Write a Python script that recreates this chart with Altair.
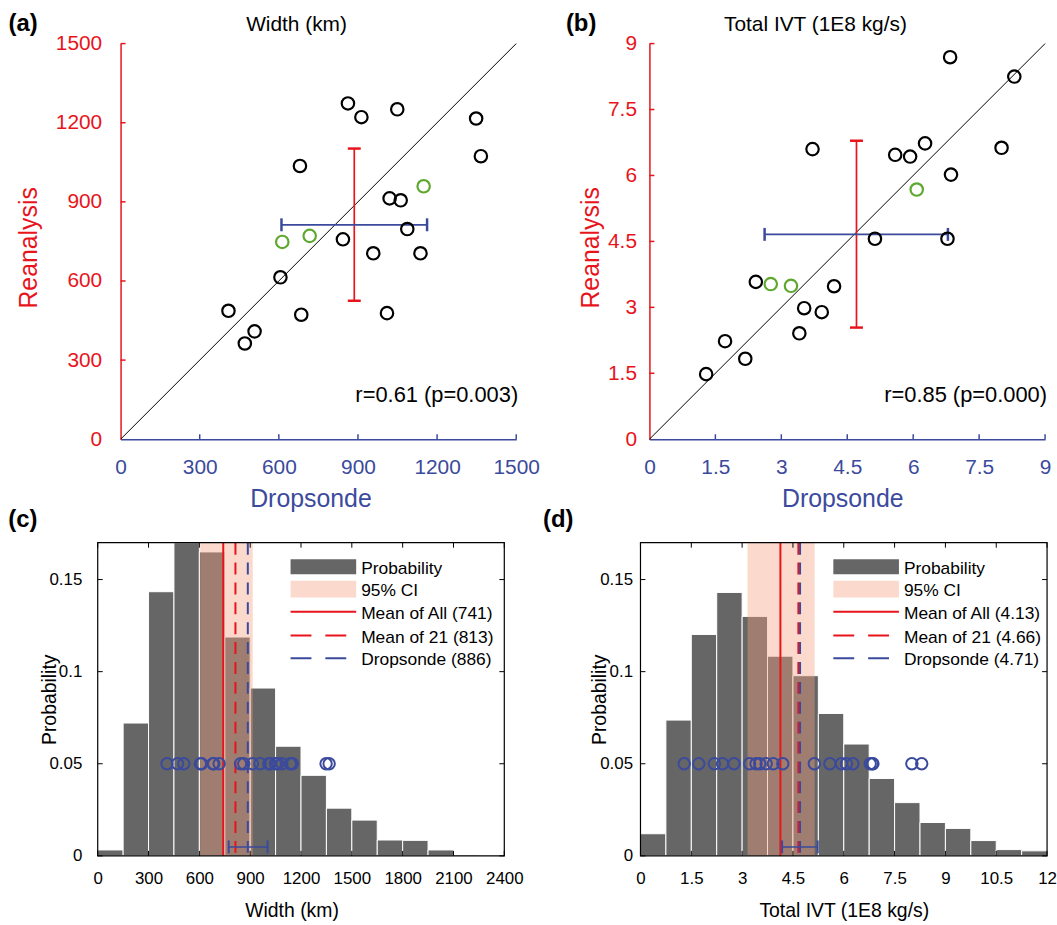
import altair as alt
import pandas as pd

FONT = "Liberation Sans"
RED = "#e8141c"
BLUE = "#3b4a9d"
GREEN = "#5ea82f"
GRAY = "#666666"
CI_FILL = "#f5a383"
LABEL_EXPR = "'' + datum.value"

# ---------------- Panel (a): Width (km) ----------------
width_drop_black = [862, 913, 1049, 1348, 1366, 680, 1020, 1062, 1087, 843, 958, 1137, 606, 409, 685, 1010, 508, 471]
width_rean_black = [1273, 1221, 1251, 1216, 1073, 1036, 913, 906, 797, 758, 705, 705, 614, 487, 472, 478, 409, 363]
width_drop_green = [1149, 717, 613]
width_rean_green = [959, 771, 748]
width_ticks = [0, 300, 600, 900, 1200, 1500]
width_err = {"drop_mean": 886, "rean_mean": 813, "drop_lo": 610, "drop_hi": 1162, "rean_lo": 525, "rean_hi": 1102}
width_r_text = "r=0.61 (p=0.003)"

# ---------------- Panel (b): Total IVT (1E8 kg/s) ----------------
ivt_drop_black = [6.84, 8.30, 3.71, 5.59, 5.93, 6.27, 8.01, 6.86, 5.13, 6.78, 2.42, 4.20, 3.52, 3.92, 3.41, 1.72, 2.18, 1.29]
ivt_rean_black = [8.69, 8.25, 6.60, 6.47, 6.43, 6.73, 6.63, 6.02, 4.56, 4.56, 3.58, 3.48, 2.98, 2.89, 2.41, 2.23, 1.83, 1.48]
ivt_drop_green = [6.08, 2.76, 3.22]
ivt_rean_green = [5.68, 3.53, 3.49]
ivt_ticks = [0, 1.5, 3, 4.5, 6, 7.5, 9]
ivt_err = {"drop_mean": 4.71, "rean_mean": 4.66, "drop_lo": 2.62, "drop_hi": 6.79, "rean_lo": 2.54, "rean_hi": 6.79}
ivt_r_text = "r=0.85 (p=0.000)"

# ---------------- Panel (c): width histogram ----------------
width_edges = [0, 150, 300, 450, 600, 750, 900, 1050, 1200, 1350, 1500, 1650, 1800, 1950, 2100, 2250, 2400]
width_prob = [0.0032, 0.0721, 0.1434, 0.1700, 0.1650, 0.1188, 0.0911, 0.0595, 0.0437, 0.0259,
              0.0194, 0.0086, 0.0084, 0.0032, 0.0005, 0.0001]
width_hist_ticks = [0, 300, 600, 900, 1200, 1500, 1800, 2100, 2400]
width_hist_stats = {"ci_lo": 605, "ci_hi": 915, "mean_all": 741, "mean_21": 813, "drop": 886,
                    "err_lo": 773, "err_hi": 1003}
width_legend = ["Probability", "95% CI", "Mean of All (741)", "Mean of 21 (813)", "Dropsonde (886)"]

# ---------------- Panel (d): IVT histogram ----------------
ivt_edges = [0, 0.75, 1.5, 2.25, 3, 3.75, 4.5, 5.25, 6, 6.75, 7.5, 8.25, 9, 9.75, 10.5, 11.25, 12]
ivt_prob = [0.0120, 0.0737, 0.1202, 0.1430, 0.1300, 0.1084, 0.0978, 0.0773, 0.0607, 0.0420,
            0.0289, 0.0181, 0.0149, 0.0083, 0.0034, 0.0027]
ivt_hist_ticks = [0, 1.5, 3, 4.5, 6, 7.5, 9, 10.5, 12]
ivt_hist_stats = {"ci_lo": 3.16, "ci_hi": 5.14, "mean_all": 4.13, "mean_21": 4.66, "drop": 4.71,
                  "err_lo": 4.18, "err_hi": 5.23}
ivt_legend = ["Probability", "95% CI", "Mean of All (4.13)", "Mean of 21 (4.66)", "Dropsonde (4.71)"]

prob_ticks = [0, 0.05, 0.1, 0.15]
marker_level = 0.05

one = pd.DataFrame({"k": [0]})


def txt(text, x, y, size, color="black", align="left", weight="normal"):
    return alt.Chart(one).mark_text(text=text, font=FONT, fontSize=size, color=color, align=align,
                                    baseline="alphabetic", fontWeight=weight).encode(
        x=alt.value(x), y=alt.value(y))


def guard(x):
    # invisible layout guard reserving blank space to the right of a panel
    return alt.Chart(one).mark_rule(strokeOpacity=0, strokeWidth=1).encode(
        x=alt.value(x), y=alt.value(0), y2=alt.value(10))


def scatter_panel(xb, yb, xg, yg, st, ticks, title, title_x, label, label_x, rtext, ylab_pad, ytitle_x,
                  xtitle_x, right_pad=None):
    W = H = 398
    dom = [ticks[0], ticks[-1]]
    xs = alt.Scale(domain=dom, nice=False, zero=False)
    ys = alt.Scale(domain=dom, nice=False, zero=False)
    xaxis = alt.Axis(values=ticks, labelExpr=LABEL_EXPR, grid=False, domain=True, domainColor=BLUE,
                     domainWidth=1.5, ticks=False, labelColor=BLUE, labelFont=FONT, labelFontSize=21,
                     labelPadding=17, labelFlush=False, labelOverlap=False,
                     title="Dropsonde", titleColor=BLUE, titleFont=FONT, titleFontSize=25,
                     titleFontWeight="normal", titleX=xtitle_x, titleY=67.6, titleAlign="center",
                     titleBaseline="alphabetic", titleAngle=0)
    yaxis = alt.Axis(values=ticks, labelExpr=LABEL_EXPR, grid=False, domain=True, domainColor=RED,
                     domainWidth=1.5, ticks=False, labelColor=RED, labelFont=FONT, labelFontSize=21,
                     labelPadding=ylab_pad, labelFlush=False, labelOverlap=False,
                     title="Reanalysis", titleColor=RED, titleFont=FONT, titleFontSize=25,
                     titleFontWeight="normal", titleX=ytitle_x, titleY=205, titleAlign="center",
                     titleBaseline="alphabetic", titleAngle=270)

    def X(f):
        return alt.X(f, scale=xs, axis=xaxis)

    def Y(f):
        return alt.Y(f, scale=ys, axis=yaxis)

    diag = alt.Chart(pd.DataFrame({"x": dom, "y": dom})).mark_line(color="black", strokeWidth=1).encode(
        x=X("x:Q"), y=Y("y:Q"))
    black = alt.Chart(pd.DataFrame({"x": xb, "y": yb})).mark_point(
        shape="circle", filled=False, size=156, strokeWidth=2.2, color="black", opacity=1).encode(
        x=X("x:Q"), y=Y("y:Q"))
    green = alt.Chart(pd.DataFrame({"x": xg, "y": yg})).mark_point(
        shape="circle", filled=False, size=156, strokeWidth=2.2, color=GREEN, opacity=1).encode(
        x=X("x:Q"), y=Y("y:Q"))

    vdf = pd.DataFrame({"x": [st["drop_mean"]], "y": [st["rean_lo"]], "hi": [st["rean_hi"]]})
    vbar = alt.Chart(vdf).mark_rule(color=RED, strokeWidth=1.7).encode(
        x=X("x:Q"), y=Y("y:Q"), y2="hi:Q")
    vcap = alt.Chart(pd.DataFrame({"x": [st["drop_mean"]] * 2, "y": [st["rean_lo"], st["rean_hi"]]})).mark_tick(
        orient="horizontal", color=RED, size=13, thickness=2.5, opacity=1).encode(
        x=X("x:Q"), y=Y("y:Q"))
    hdf = pd.DataFrame({"y": [st["rean_mean"]], "x": [st["drop_lo"]], "hi": [st["drop_hi"]]})
    hbar = alt.Chart(hdf).mark_rule(color=BLUE, strokeWidth=1.7).encode(
        y=Y("y:Q"), x=X("x:Q"), x2="hi:Q")
    hcap = alt.Chart(pd.DataFrame({"y": [st["rean_mean"]] * 2, "x": [st["drop_lo"], st["drop_hi"]]})).mark_tick(
        orient="vertical", color=BLUE, size=13, thickness=2.5, opacity=1).encode(
        x=X("x:Q"), y=Y("y:Q"))

    ydf = pd.DataFrame({"y": ticks[1:]})
    xdf = pd.DataFrame({"x": ticks[1:]})
    yt = alt.Chart(ydf).mark_rule(color=RED, strokeWidth=1.5).encode(
        y=Y("y:Q"), x=alt.value(0), x2=alt.value(5))
    xt = alt.Chart(xdf).mark_rule(color=BLUE, strokeWidth=1.5).encode(
        x=X("x:Q"), y=alt.value(H), y2=alt.value(H - 5))

    r = txt(rtext, 400, 361, 22, align="right")
    ttl = txt(title, title_x, -13, 21, align="center")
    lab = txt(label, label_x, -13, 24, weight="bold")
    layers = [diag, vbar, vcap, hbar, hcap, black, green, yt, xt, r, ttl, lab]
    if right_pad is not None:
        layers.append(guard(right_pad))

    return alt.layer(*layers).properties(width=W, height=H)


def hist_panel(edges, probs, drops, st, xticks, xtitle, legend, label, label_x, ylab_pad, ytitle_x, xtitle_x,
               right_pad=None):
    W, H = 409, 315
    xs = alt.Scale(domain=[xticks[0], xticks[-1]], nice=False, zero=False)
    ys = alt.Scale(domain=[0, 0.17], nice=False, zero=False)
    xaxis = alt.Axis(values=xticks, labelExpr=LABEL_EXPR, grid=False, domain=False, ticks=False,
                     labelColor="black", labelFont=FONT, labelFontSize=17, labelPadding=15,
                     labelFlush=False, labelOverlap=False,
                     title=xtitle, titleColor="black", titleFont=FONT, titleFontSize=19.5,
                     titleFontWeight="normal", titleX=xtitle_x, titleY=61, titleAlign="center",
                     titleBaseline="alphabetic", titleAngle=0)
    yaxis = alt.Axis(values=prob_ticks, labelExpr=LABEL_EXPR, grid=False, domain=False, ticks=False,
                     labelColor="black", labelFont=FONT, labelFontSize=17, labelPadding=ylab_pad,
                     labelFlush=False, labelOverlap=False,
                     title="Probability", titleColor="black", titleFont=FONT, titleFontSize=19.5,
                     titleFontWeight="normal", titleX=ytitle_x, titleY=H / 2, titleAlign="center",
                     titleBaseline="alphabetic", titleAngle=270)

    def X(f):
        return alt.X(f, scale=xs, axis=xaxis)

    def Y(f):
        return alt.Y(f, scale=ys, axis=yaxis)

    bdf = pd.DataFrame({"x": edges[:-1], "end": edges[1:], "y": probs})
    bars = alt.Chart(bdf).mark_rect(fill=GRAY, stroke="white", strokeWidth=1, clip=True).encode(
        x=X("x:Q"), x2="end:Q", y=Y("y:Q"), y2=alt.datum(0))
    ci = alt.Chart(pd.DataFrame({"x": [st["ci_lo"]], "hi": [st["ci_hi"]]})).mark_rect(
        fill=CI_FILL, fillOpacity=0.4).encode(
        x=X("x:Q"), x2="hi:Q", y=alt.value(0), y2=alt.value(H))

    def vline(v, color, dash=None):
        kw = dict(color=color, strokeWidth=2)
        if dash:
            kw["strokeDash"] = dash
        return alt.Chart(pd.DataFrame({"x": [v]})).mark_rule(**kw).encode(
            x=X("x:Q"), y=alt.value(0), y2=alt.value(H))

    m_all = vline(st["mean_all"], RED)
    m_21 = vline(st["mean_21"], RED, [12, 8])
    m_drop = vline(st["drop"], BLUE, [12, 8])

    circ = alt.Chart(pd.DataFrame({"x": drops, "y": [marker_level] * len(drops)})).mark_point(
        shape="circle", filled=False, size=132, strokeWidth=2, color=BLUE, opacity=1).encode(
        x=X("x:Q"), y=Y("y:Q"))

    err = alt.Chart(pd.DataFrame({"x": [st["err_lo"]], "hi": [st["err_hi"]]})).mark_rule(
        color=BLUE, strokeWidth=1.5).encode(
        x=X("x:Q"), x2="hi:Q", y=alt.value(H - 9))
    errcap = alt.Chart(pd.DataFrame({"x": [st["err_lo"], st["err_hi"]]})).mark_tick(
        orient="vertical", color=BLUE, size=13, thickness=2, opacity=1).encode(
        x=X("x:Q"), y=alt.value(H - 9))

    frame = alt.Chart(one).mark_rect(fillOpacity=0, stroke="black", strokeWidth=1.2).encode(
        x=alt.value(0), x2=alt.value(W), y=alt.value(0), y2=alt.value(H))
    xtdf = pd.DataFrame({"x": xticks})
    ytdf = pd.DataFrame({"y": prob_ticks})
    xt_b = alt.Chart(xtdf).mark_rule(color="black", strokeWidth=1).encode(
        x=X("x:Q"), y=alt.value(H), y2=alt.value(H - 5))
    xt_t = alt.Chart(xtdf).mark_rule(color="black", strokeWidth=1).encode(
        x=X("x:Q"), y=alt.value(0), y2=alt.value(5))
    yt_l = alt.Chart(ytdf).mark_rule(color="black", strokeWidth=1).encode(
        y=Y("y:Q"), x=alt.value(0), x2=alt.value(5))
    yt_r = alt.Chart(ytdf).mark_rule(color="black", strokeWidth=1).encode(
        y=Y("y:Q"), x=alt.value(W), x2=alt.value(W - 5))

    # legend
    lx0, lx1, ltx = 194, 260, 265
    leg = [
        alt.Chart(one).mark_rect(fill=GRAY).encode(
            x=alt.value(lx0), x2=alt.value(lx1), y=alt.value(16.7), y2=alt.value(31.7)),
        alt.Chart(one).mark_rect(fill=CI_FILL, fillOpacity=0.4).encode(
            x=alt.value(lx0), x2=alt.value(lx1), y=alt.value(38.3), y2=alt.value(55)),
        alt.Chart(one).mark_rule(color=RED, strokeWidth=2).encode(
            x=alt.value(lx0), x2=alt.value(lx1), y=alt.value(69.5)),
        alt.Chart(one).mark_rule(color=RED, strokeWidth=2, strokeDash=[21, 14]).encode(
            x=alt.value(lx0), x2=alt.value(lx1), y=alt.value(93.3)),
        alt.Chart(one).mark_rule(color=BLUE, strokeWidth=2, strokeDash=[21, 14]).encode(
            x=alt.value(lx0), x2=alt.value(lx1), y=alt.value(116.3)),
    ]
    for s, yb in zip(legend, [31, 54, 77, 100.5, 123]):
        leg.append(txt(s, ltx, yb, 17.5))

    lab = txt(label, label_x, -16, 24, weight="bold")
    layers = [bars, ci, m_all, m_21, m_drop, circ, err, errcap, frame, xt_b, xt_t, yt_l, yt_r, *leg, lab]
    if right_pad is not None:
        layers.append(guard(right_pad))

    return alt.layer(*layers).properties(width=W, height=H)


pa = scatter_panel(width_drop_black, width_rean_black, width_drop_green, width_rean_green, width_err,
                   width_ticks, "Width (km)", 177, "(a)", -112.7, width_r_text, 19, -85, 191, right_pad=447.1)
pb = scatter_panel(ivt_drop_black, ivt_rean_black, ivt_drop_green, ivt_rean_green, ivt_err,
                   ivt_ticks, "Total IVT (1E8 kg/s)", 167, "(b)", -84, ivt_r_text, 13, -51, 194)
pc = hist_panel(width_edges, width_prob, width_drop_black + width_drop_green, width_hist_stats,
                width_hist_ticks, "Width (km)", width_legend, "(c)", -90, 16, -42, 195, right_pad=441.5)
pd_ = hist_panel(ivt_edges, ivt_prob, ivt_drop_black + ivt_drop_green, ivt_hist_stats,
                 ivt_hist_ticks, "Total IVT (1E8 kg/s)", ivt_legend, "(d)", -98, 8, -35, 204.5)


def spacer():
    return alt.Chart(one).mark_text(text="").encode(x=alt.value(0), y=alt.value(0)).properties(
        width=1, height=1)


chart = alt.concat(spacer(), pa, pb, spacer(), pc, pd_, columns=3, align="none",
                   spacing={"row": -3.9, "column": 0}).properties(
    padding={"left": 7.3, "top": 9.1, "right": 0, "bottom": 0},
    background="white",
).configure(font=FONT).configure_view(stroke=None)

chart.save("out.html", embed_options={"renderer": "svg", "actions": False})
